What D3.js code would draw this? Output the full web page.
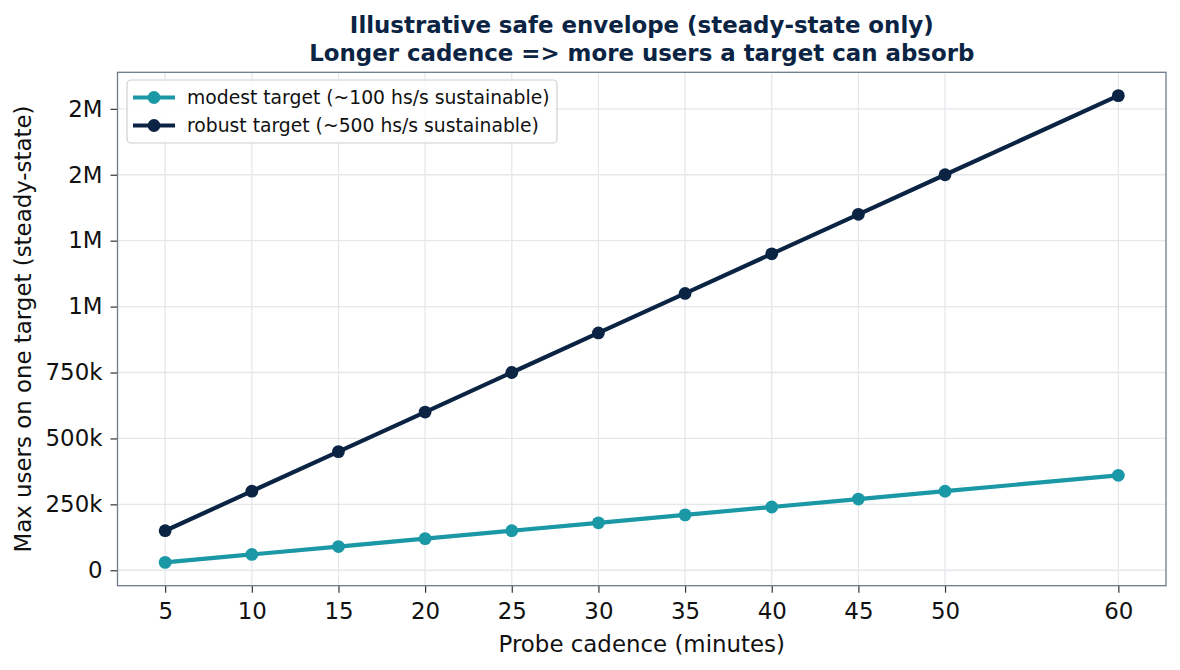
<!DOCTYPE html>
<html>
<head>
<meta charset="utf-8">
<script src="https://cdn.jsdelivr.net/npm/d3@7"></script>
<style>
  body { margin: 0; background: #fff; }
  svg { display: block; font-family: "DejaVu Sans", sans-serif; }
</style>
</head>
<body>
<script>
// data
const cadence = [5, 10, 15, 20, 25, 30, 35, 40, 45, 50, 60]
const modest = [30000, 60000, 90000, 120000, 150000, 180000, 210000, 240000, 270000, 300000, 360000]
const robust = [150000, 300000, 450000, 600000, 750000, 900000, 1050000, 1200000, 1350000, 1500000, 1800000]
const yTicks = [0, 250000, 500000, 750000, 1000000, 1250000, 1500000, 1750000]
const yTickLabels = ['0', '250k', '500k', '750k', '1M', '1M', '2M', '2M']
const seriesNames = ['modest target (~100 hs/s sustainable)', 'robust target (~500 hs/s sustainable)']
const seriesColors = ['#1b98a5', '#0b2443']

let width = 1180
let height = 670
// plot box (window.top is taken, so prefix these)
let plotL = 117.5, plotR = 1166, plotT = 72.3, plotB = 585.7
let labelSize = '22.9px'

let svg = d3.select('body').append('svg').attr('width', width).attr('height', height)

// matplotlib style 5% margins
let pad = (lo, hi) => [lo - (hi - lo) * 0.05, hi + (hi - lo) * 0.05]
let allY = modest.concat(robust)

let x = d3.scaleLinear().domain(pad(d3.min(cadence), d3.max(cadence))).range([plotL, plotR])
let y = d3.scaleLinear().domain(pad(d3.min(allY), d3.max(allY))).range([plotB, plotT])

// grid
let grid = svg.append('g')
grid.selectAll('line.gx').data(cadence).enter().append('line')
    .attr('x1', d => x(d)).attr('x2', d => x(d))
    .attr('y1', plotT).attr('y2', plotB)
    .attr('stroke', '#e5e7eb').attr('stroke-width', 1.3)
grid.selectAll('line.gy').data(yTicks).enter().append('line')
    .attr('x1', plotL).attr('x2', plotR)
    .attr('y1', d => y(d)).attr('y2', d => y(d))
    .attr('stroke', '#e5e7eb').attr('stroke-width', 1.3)

// axes
let xAxis = d3.axisBottom(x).tickValues(cadence).tickSize(7).tickPadding(7).tickFormat(d3.format('d'))
let yAxis = d3.axisLeft(y).tickValues(yTicks).tickSize(7).tickPadding(8)
              .tickFormat((d, i) => yTickLabels[i])

let gx = svg.append('g').attr('transform', 'translate(0,' + plotB + ')').call(xAxis)
let gy = svg.append('g').attr('transform', 'translate(' + plotL + ',0)').call(yAxis)
for (let g of [gx, gy]) {
    g.select('.domain').remove()
    g.selectAll('.tick line').attr('stroke', '#333').attr('stroke-width', 1.2)
    g.selectAll('.tick text').attr('fill', '#111').style('font-size', labelSize)
      .style('font-family', '"DejaVu Sans", sans-serif')
}
gx.selectAll('.tick text').attr('dy', '0.865em')

// lines + markers
let series = [modest, robust]
series.forEach((vals, k) => {
    let line = d3.line().x((d, i) => x(cadence[i])).y(d => y(d))
    svg.append('path').datum(vals)
       .attr('d', line)
       .attr('fill', 'none')
       .attr('stroke', seriesColors[k])
       .attr('stroke-width', 4.2)
       .attr('stroke-linejoin', 'round')
    svg.append('g').selectAll('circle').data(vals).enter().append('circle')
       .attr('cx', (d, i) => x(cadence[i]))
       .attr('cy', d => y(d))
       .attr('r', 6.4)
       .attr('fill', seriesColors[k])
})

// frame
svg.append('rect')
   .attr('x', plotL).attr('y', plotT)
   .attr('width', plotR - plotL).attr('height', plotB - plotT)
   .attr('fill', 'none').attr('stroke', '#6e7b8b').attr('stroke-width', 1.3)

// title
let title = svg.append('text')
    .attr('text-anchor', 'middle')
    .attr('fill', '#0b2443')
    .style('font-size', '22.9px').style('font-weight', 'bold')
title.append('tspan').attr('x', (plotL + plotR) / 2).attr('y', 33)
     .text('Illustrative safe envelope (steady-state only)')
title.append('tspan').attr('x', (plotL + plotR) / 2).attr('y', 60.5)
     .text('Longer cadence => more users a target can absorb')

// axis labels
svg.append('text')
   .attr('x', (plotL + plotR) / 2).attr('y', 651.5)
   .attr('text-anchor', 'middle').attr('fill', '#111')
   .style('font-size', labelSize)
   .text('Probe cadence (minutes)')

svg.append('text')
   .attr('transform', 'translate(31,' + (plotT + plotB) / 2 + ') rotate(-90)')
   .attr('text-anchor', 'middle').attr('fill', '#111')
   .style('font-size', labelSize)
   .text('Max users on one target (steady-state)')

// legend
let legend = svg.append('g')
legend.append('rect')
      .attr('x', 127).attr('y', 80).attr('width', 430).attr('height', 63).attr('rx', 4)
      .attr('fill', 'rgba(255,255,255,0.85)').attr('stroke', '#d0d0d0').attr('stroke-width', 1.2)
seriesNames.forEach((name, k) => {
    let cy = 97.5 + k * 28
    legend.append('line')
          .attr('x1', 133).attr('x2', 175).attr('y1', cy).attr('y2', cy)
          .attr('stroke', seriesColors[k]).attr('stroke-width', 4.2)
    legend.append('circle').attr('cx', 154).attr('cy', cy).attr('r', 6.4).attr('fill', seriesColors[k])
    legend.append('text')
          .attr('x', 187).attr('y', cy).attr('dy', '0.35em')
          .attr('fill', '#111').style('font-size', '18.75px')
          .text(name)
})
</script>
</body>
</html>
